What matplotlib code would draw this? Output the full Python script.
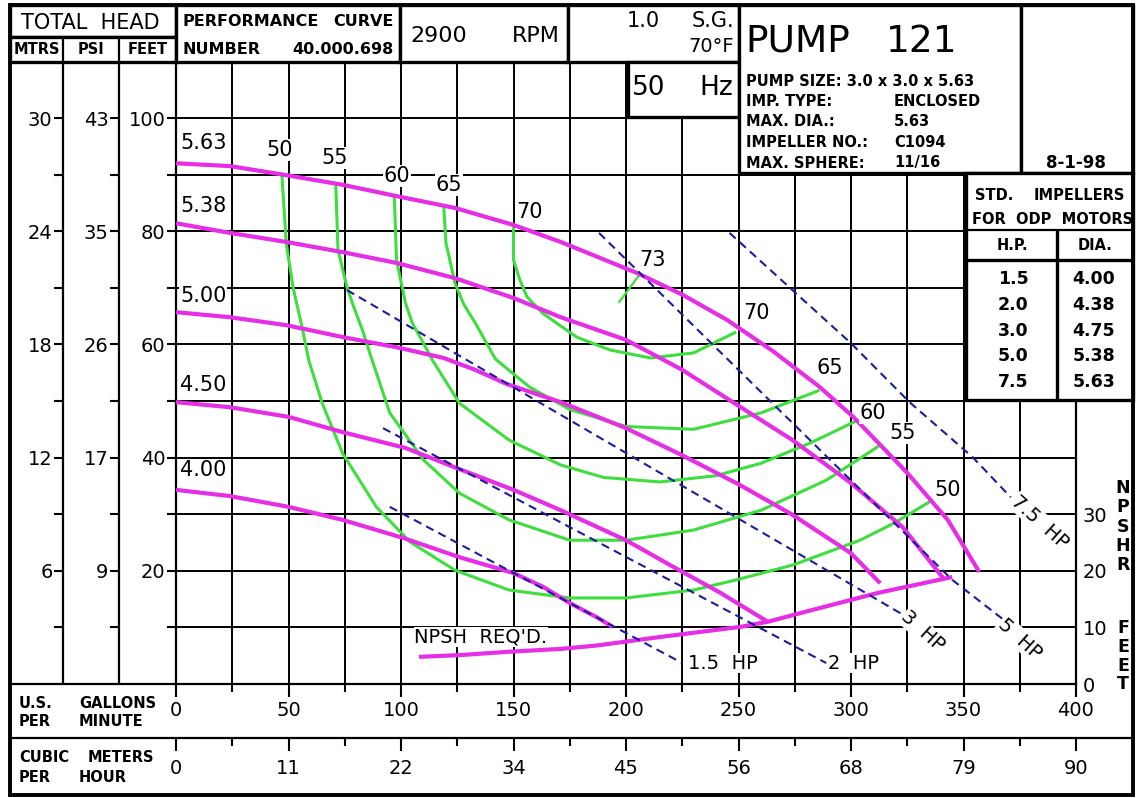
import matplotlib
matplotlib.use("Agg")
import matplotlib.pyplot as plt
from matplotlib.patches import Rectangle

# ---------------------------------------------------------------------------
# Values (flow in US GPM, head in feet)
# ---------------------------------------------------------------------------
GPM_TICKS = [0, 50, 100, 150, 200, 250, 300, 350, 400]
GPM_MINOR = [25, 75, 125, 175, 225, 275, 325, 375]
CMH_LABELS = ["0", "11", "22", "34", "45", "56", "68", "79", "90"]
FEET_TICKS = [20, 40, 60, 80, 100]
FEET_MINOR = [10, 30, 50, 70, 90]
MTRS_LABELS = ["6", "12", "18", "24", "30"]
PSI_LABELS = ["9", "17", "26", "35", "43"]
NPSHR_TICKS = [0, 10, 20, 30]

# head curves per impeller diameter
IMPELLERS = ["5.63", "5.38", "5.00", "4.50", "4.00"]
dia_563_q = [0, 24, 49, 74, 98, 124, 150, 171, 205, 225, 245, 265, 286, 301, 325, 343, 357]
dia_563_h = [92.0, 91.5, 89.9, 88.2, 86.2, 84.1, 81.1, 78.1, 72.6, 68.8, 64.3, 58.9, 52.5, 47.2, 37.3, 29.0, 19.8]
dia_538_q = [0, 24, 49, 74, 98, 124, 150, 171, 200, 225, 251, 274, 300, 323, 341]
dia_538_h = [81.4, 79.7, 78.1, 76.3, 74.4, 71.7, 68.2, 64.8, 60.8, 55.5, 48.9, 43.1, 35.5, 27.7, 18.7]
dia_500_q = [0, 24, 49, 74, 98, 119, 133, 147, 171, 200, 224, 250, 274, 300, 313]
dia_500_h = [65.7, 64.8, 63.4, 61.3, 59.5, 57.6, 55.5, 53.0, 49.8, 45.2, 40.6, 35.3, 29.9, 23.1, 17.8]
dia_450_q = [0, 24, 50, 74, 102, 127, 150, 171, 200, 221, 242, 263]
dia_450_h = [49.8, 48.9, 47.2, 44.5, 41.7, 37.8, 34.3, 30.7, 25.4, 20.7, 16.1, 11.0]
dia_400_q = [0, 24, 50, 74, 101, 126, 150, 163, 175, 187, 194]
dia_400_h = [34.3, 33.2, 31.3, 29.0, 25.8, 22.4, 19.6, 17.2, 14.3, 11.8, 10.1]

# NPSH required
npsh_q = [108, 126, 148, 171, 187, 215, 251, 263, 283, 312, 345]
npsh_h = [4.8, 5.1, 5.7, 6.2, 6.8, 8.3, 10.1, 11.0, 13.1, 16.1, 18.9]

# iso-efficiency curves (%)
eff_50_q = [47, 49, 52, 56, 59, 65, 74, 89, 104, 124, 148, 175, 200, 230, 249, 274, 304, 319, 335]
eff_50_h = [90.3, 77.9, 70.1, 63.1, 57.2, 49.6, 40.8, 31.3, 25.1, 20.1, 16.6, 15.2, 15.2, 16.6, 18.4, 21.0, 25.4, 28.4, 32.2]
eff_55_q = [71, 72, 76, 79, 83, 87, 95, 110, 126, 148, 175, 200, 230, 260, 289, 313]
eff_55_h = [88.3, 76.7, 70.1, 66.6, 62.4, 57.4, 47.9, 39.6, 33.7, 29.0, 25.4, 25.4, 27.2, 30.7, 36.0, 42.2]
eff_60_q = [97, 98, 102, 105, 110, 114, 126, 148, 171, 190, 215, 240, 260, 282, 303]
eff_60_h = [86.4, 74.9, 67.3, 63.8, 60.2, 57.2, 49.6, 43.1, 38.7, 36.5, 35.7, 36.8, 39.0, 42.6, 46.6]
eff_65_q = [119, 120, 124, 128, 133, 142, 157, 175, 200, 230, 260, 286]
eff_65_h = [84.3, 77.9, 70.8, 67.0, 63.8, 57.4, 52.5, 48.5, 45.5, 45.0, 47.9, 51.9]
eff_70_q = [150, 150, 153, 156, 163, 178, 193, 211, 230, 249]
eff_70_h = [80.7, 74.9, 71.2, 68.4, 65.5, 61.3, 59.0, 57.6, 58.5, 62.2]
eff_73_q = [206, 197]
eff_73_h = [72.3, 67.5]

# motor horsepower limit lines
hp_15_q = [95, 225]
hp_15_h = [31.3, 3.7]
hp_2_q = [92, 289]
hp_2_h = [45.2, 3.7]
hp_3_q = [76, 322]
hp_3_h = [69.6, 12.5]
hp_5_q = [188, 345, 368]
hp_5_h = [79.7, 18.4, 11.3]
hp_75_q = [246, 300, 326, 354, 371]
hp_75_h = [79.7, 60.2, 49.8, 40.1, 33.0]

STD_HP = ["1.5", "2.0", "3.0", "5.0", "7.5"]
STD_DIA = ["4.00", "4.38", "4.75", "5.38", "5.63"]

# ---------------------------------------------------------------------------
# Layout (pixel frame of the sheet)
# ---------------------------------------------------------------------------
W, H = 1140, 798
PX_PER_FT = 5.66
Y_TOP = (684 - 62) / PX_PER_FT

MAGENTA = "#e62ee6"
GREEN = "#3ede3e"
BLUE = "#1c1ca0"

plt.rcParams["font.family"] = "DejaVu Sans"


def fx(px):
    return px / W


def fy(py):
    return 1 - py / H


fig = plt.figure(figsize=(W / 100, H / 100), dpi=100)

# main plotting area
ax = fig.add_axes([fx(176), fy(684), (1076 - 176) / W, (684 - 62) / H])
ax.set_xlim(0, 400)
ax.set_ylim(0, Y_TOP)
ax.set_xticks(GPM_TICKS)
ax.set_xticks(GPM_MINOR, minor=True)
ax.set_xticklabels([str(v) for v in GPM_TICKS])
ax.set_yticks(FEET_TICKS)
ax.set_yticks(FEET_MINOR, minor=True)
ax.set_yticklabels([str(v) for v in FEET_TICKS])
ax.tick_params(axis="x", which="major", length=9, width=1.5, labelsize=14, pad=3)
ax.tick_params(axis="x", which="minor", length=6, width=1.5)
ax.tick_params(axis="y", which="both", length=6.5, width=1.5, labelsize=14, pad=1)
ax.grid(True, which="both", color="black", lw=1.4, zorder=0)
ax.set_axisbelow(True)
for s in ax.spines.values():
    s.set_linewidth(1.6)

# right NPSHR scale
sec = ax.secondary_yaxis("right")
sec.set_yticks(NPSHR_TICKS)
sec.set_yticklabels([str(v) for v in NPSHR_TICKS])
sec.tick_params(length=0, labelsize=14, pad=5)
sec.spines["right"].set_visible(False)

# MTRS and PSI columns
for col_x, labels in [(63, MTRS_LABELS), (119, PSI_LABELS)]:
    cax = fig.add_axes([fx(col_x), fy(684), 0.0001, (684 - 62) / H])
    cax.set_ylim(0, Y_TOP)
    cax.set_xticks([])
    cax.set_yticks(FEET_TICKS)
    cax.set_yticks(FEET_MINOR, minor=True)
    cax.set_yticklabels(labels)
    cax.tick_params(axis="y", which="both", length=6.5, width=1.5, labelsize=14, pad=1)
    for s in cax.spines.values():
        s.set_visible(False)
    cax.patch.set_alpha(0)

# cubic meters per hour row
cmh = fig.add_axes([fx(176), fy(738), (1076 - 176) / W, 0.0001])
cmh.set_xlim(0, 400)
cmh.set_yticks([])
cmh.set_xticks(GPM_TICKS)
cmh.set_xticks(GPM_MINOR, minor=True)
cmh.set_xticklabels(CMH_LABELS)
cmh.tick_params(axis="x", which="major", length=9, width=1.5, labelsize=14, pad=6)
cmh.tick_params(axis="x", which="minor", length=6, width=1.5)
for s in cmh.spines.values():
    s.set_visible(False)
cmh.patch.set_alpha(0)

# ---------------------------------------------------------------------------
# Curves
# ---------------------------------------------------------------------------
eff_curves = [(eff_50_q, eff_50_h), (eff_55_q, eff_55_h), (eff_60_q, eff_60_h),
              (eff_65_q, eff_65_h), (eff_70_q, eff_70_h)]
for q, h in eff_curves:
    ax.plot(q, h, color=GREEN, lw=2.2, zorder=2, solid_capstyle="butt",
            solid_joinstyle="round")
ax.plot(eff_73_q, eff_73_h, color=GREEN, lw=1.6, zorder=2)

head_curves = [(dia_563_q, dia_563_h), (dia_538_q, dia_538_h), (dia_500_q, dia_500_h),
               (dia_450_q, dia_450_h), (dia_400_q, dia_400_h)]
for q, h in head_curves:
    ax.plot(q, h, color=MAGENTA, lw=3.0, zorder=3, solid_capstyle="butt",
            solid_joinstyle="round")
ax.plot(npsh_q, npsh_h, color=MAGENTA, lw=3.0, zorder=3, solid_capstyle="butt",
        solid_joinstyle="round")

for q, h in [(hp_15_q, hp_15_h), (hp_2_q, hp_2_h), (hp_3_q, hp_3_h),
             (hp_5_q, hp_5_h), (hp_75_q, hp_75_h)]:
    ax.plot(q, h, color=BLUE, lw=1.5, ls=(0, (4, 2.6)), zorder=4)

# curve labels
lbl_box = dict(facecolor="white", edgecolor="none", pad=0.6)
for name, yy in zip(IMPELLERS, [95.6, 84.5, 68.6, 52.8, 37.8]):
    ax.text(1.8, yy, name, fontsize=15, ha="left", va="center", bbox=lbl_box, zorder=6)

eff_labels = [("50", 46.2, 94.3), ("55", 70.7, 92.9), ("60", 98.2, 89.8),
              ("65", 121.3, 88.2), ("70", 157.3, 83.4), ("73", 211.6, 74.9),
              ("70", 258.2, 65.5), ("65", 290.7, 55.8), ("60", 309.8, 47.9),
              ("55", 323.1, 44.3), ("50", 343.1, 34.3)]
for s, xx, yy in eff_labels:
    ax.text(xx, yy, s, fontsize=15, ha="center", va="center", bbox=lbl_box, zorder=6)

ax.text(227.5, 3.7, "1.5  HP", fontsize=14, ha="left", va="center", bbox=lbl_box, zorder=6)
ax.text(290, 3.7, "2  HP", fontsize=14, ha="left", va="center", bbox=lbl_box, zorder=6)
ax.text(332, 9.3, "3  HP", fontsize=14, ha="center", va="center", rotation=-42,
        bbox=lbl_box, zorder=6)
ax.text(375, 8.0, "5  HP", fontsize=14, ha="center", va="center", rotation=-42,
        bbox=lbl_box, zorder=6)
ax.text(384, 28.6, "7.5  HP", fontsize=14, ha="center", va="center", rotation=-42,
        bbox=lbl_box, zorder=6)
ax.text(106, 8.3, "NPSH  REQ'D.", fontsize=14, ha="left", va="center", bbox=lbl_box, zorder=6)

# ---------------------------------------------------------------------------
# Title block and frame (drawn in pixel coordinates on top)
# ---------------------------------------------------------------------------
ov = fig.add_axes([0, 0, 1, 1], zorder=10)
ov.set_xlim(0, W)
ov.set_ylim(H, 0)
ov.axis("off")
ov.patch.set_alpha(0)

THICK = 2.4
THIN = 1.6


def box(x0, y0, x1, y1, lw=THICK):
    ov.add_patch(Rectangle((x0, y0), x1 - x0, y1 - y0, facecolor="white",
                           edgecolor="black", lw=lw))


def hline(y, x0, x1, lw=THIN):
    ov.plot([x0, x1], [y, y], color="black", lw=lw, solid_capstyle="butt")


def vline(x, y0, y1, lw=THIN):
    ov.plot([x, x], [y0, y1], color="black", lw=lw, solid_capstyle="butt")


def txt(x, y, s, size=11, ha="left", weight="bold"):
    ov.text(x, y, s, fontsize=size, ha=ha, va="center", fontweight=weight)


# header band
box(10, 5, 176, 37)
box(10, 37, 176, 62)
box(176, 5, 400, 62)
box(400, 5, 568, 62)
box(568, 5, 739, 62)
vline(63, 37, 684)
vline(119, 37, 684)
box(628, 62, 739, 117)
box(739, 5, 1021, 173)
box(1021, 5, 1133, 173)
box(966, 173, 1133, 400)
hline(230, 966, 1133)
hline(260, 966, 1133, lw=THICK)
vline(1057, 230, 400, lw=THICK)

# bottom rows
hline(684, 10, 176)
hline(738, 10, 1133)
ov.add_patch(Rectangle((10, 5), 1123, 790, fill=False, edgecolor="black", lw=2.8))

txt(90, 23, "TOTAL  HEAD", size=15, ha="center", weight="normal")
txt(37, 50, "MTRS", size=10.5, ha="center")
txt(91, 50, "PSI", size=10.5, ha="center")
txt(148, 50, "FEET", size=10.5, ha="center")
txt(183, 22, "PERFORMANCE", size=11.5)
txt(394, 22, "CURVE", size=11.5, ha="right")
txt(183, 49, "NUMBER", size=11.5)
txt(394, 49, "40.000.698", size=11.5, ha="right")
txt(410, 36, "2900", size=16, weight="normal")
txt(560, 36, "RPM", size=16, ha="right", weight="normal")
txt(660, 21, "1.0", size=15, ha="right", weight="normal")
txt(734, 21, "S.G.", size=15, ha="right", weight="normal")
txt(734, 47, "70°F", size=14, ha="right", weight="normal")
txt(632, 88, "50", size=19, weight="normal")
txt(733, 88, "Hz", size=19, ha="right", weight="normal")

txt(745, 42, "PUMP", size=27, weight="normal")
txt(957, 42, "121", size=27, ha="right", weight="normal")
info = [("PUMP SIZE: 3.0 x 3.0 x 5.63", ""), ("IMP. TYPE:", "ENCLOSED"),
        ("MAX. DIA.:", "5.63"), ("IMPELLER NO.:", "C1094"), ("MAX. SPHERE:", "11/16")]
for i, (k, v) in enumerate(info):
    yy = 81 + i * 20.5
    txt(746, yy, k, size=10.5)
    if v:
        txt(894, yy, v, size=10.5)
txt(1076, 163, "8-1-98", size=12, ha="center")

txt(975, 196, "STD.", size=10.5)
txt(1125, 196, "IMPELLERS", size=10.5, ha="right")
txt(972, 219, "FOR  ODP  MOTORS", size=10.5)
txt(1012, 246, "H.P.", size=10.5, ha="center")
txt(1095, 246, "DIA.", size=10.5, ha="center")
for i, (hp, dia) in enumerate(zip(STD_HP, STD_DIA)):
    yy = 279 + i * 25.8
    txt(1013, yy, hp, size=12.5, ha="center")
    txt(1094, yy, dia, size=12.5, ha="center")

txt(19, 703, "U.S.", size=10.5)
txt(79, 703, "GALLONS", size=10.5)
txt(19, 722, "PER", size=10.5)
txt(79, 722, "MINUTE", size=10.5)
txt(19, 757, "CUBIC", size=10.5)
txt(88, 757, "METERS", size=10.5)
txt(19, 777, "PER", size=10.5)
txt(79, 777, "HOUR", size=10.5)

for i, ch in enumerate("NPSHR"):
    txt(1123, 488 + i * 19.3, ch, size=12.5, ha="center")
for i, ch in enumerate("FEET"):
    txt(1123, 628 + i * 18.8, ch, size=12.5, ha="center")

fig.savefig("out.png", dpi=100)
